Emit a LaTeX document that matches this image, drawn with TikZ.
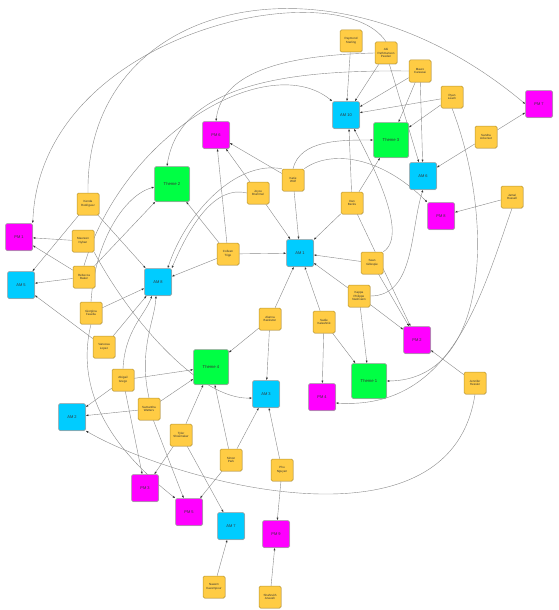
\documentclass[tikz,border=0pt]{standalone}
\usepackage{fontspec}
\setmainfont{Liberation Sans}
\usetikzlibrary{arrows.meta, shadows, backgrounds}
\definecolor{persfill}{HTML}{FFCC44}
\definecolor{persline}{HTML}{B8942E}
\definecolor{amfill}{HTML}{00CCFF}
\definecolor{pmfill}{HTML}{FF00FF}
\definecolor{themefill}{HTML}{00FF44}
\definecolor{linkgray}{HTML}{8A8A8A}
\tikzset{
    basenode/.style={rectangle, rounded corners=1.5pt, draw=black!40, line width=0.5pt, inner sep=0pt, align=center, text=black!80,
        drop shadow={shadow xshift=0.6pt, shadow yshift=-0.6pt, fill=black!25}},
    persnode/.style={basenode, fill=persfill, draw=persline, minimum size=22pt, font=\fontsize{3}{3.8}\selectfont},
    amnode/.style={basenode, fill=amfill, minimum size=27pt, font=\fontsize{4}{5}\selectfont},
    pmnode/.style={basenode, fill=pmfill, minimum size=27pt, font=\fontsize{4}{5}\selectfont},
    themenode/.style={basenode, fill=themefill, minimum size=35pt, font=\fontsize{4.2}{5}\selectfont},
    linkarrow/.style={-{Latex[length=2.6pt,width=2pt,color=black!80]}, draw=linkgray, line width=0.4pt}
}
\begin{document}
\begin{tikzpicture}[x=1pt, y=1pt]
    \useasboundingbox (0,0) rectangle (558,-610);
    % people
    \node[persnode] (ray) at (351,-41) {Raymond\\Starling};
    \node[persnode] (abi) at (386,-53) {Abi\\Pathmanson\\Peeden};
    \node[persnode] (mau) at (420,-71) {Mauro\\Carassai};
    \node[persnode] (rya) at (452,-97) {Ryan\\Leach};
    \node[persnode] (san) at (486,-137) {Sandra\\Ackerset};
    \node[persnode] (jam) at (512,-197) {Jamal\\Russell};
    \node[persnode] (ken) at (88,-204) {Kenda\\Rodriguez};
    \node[persnode] (mrn) at (83,-241) {Maureen\\Nyhan};
    \node[persnode] (reb) at (84,-277) {Rebecca\\Baker};
    \node[persnode] (joy) at (258,-193) {Joyce\\Brummel};
    \node[persnode] (kat) at (293,-180) {Katie\\Wolf};
    \node[persnode] (dan) at (352,-203) {Dan\\Becks};
    \node[persnode] (col) at (228,-254) {Colleen\\Tripp};
    \node[persnode] (sea) at (372,-263) {Sean\\Gillespie};
    \node[persnode] (kap) at (359,-296) {Kappa\\Philippe\\Nashvann};
    \node[persnode] (gio) at (91,-313) {Giorgina\\Fasella};
    \node[persnode] (van) at (104,-347) {Vanessa\\Lopez};
    \node[persnode] (abg) at (123,-380) {Abigail\\Grego};
    \node[persnode] (sam) at (149,-409) {Samantha\\Watters};
    \node[persnode] (tyl) at (181,-435) {Tyler\\Shoemaker};
    \node[persnode] (ala) at (270,-319) {Alanna\\Bankston};
    \node[persnode] (sad) at (324,-322) {Sadie\\Kalashnik};
    \node[persnode] (jen) at (475,-383) {Jennifer\\Hessler};
    \node[persnode] (sim) at (231,-460) {Simon\\Park};
    \node[persnode] (phu) at (282,-470) {Phu\\Nguyen};
    \node[persnode] (nae) at (214,-587) {Naeem\\Kazempour};
    \node[persnode] (sha) at (270,-597) {Shahrukh\\Aneesh};
    % AM
    \node[amnode] (am10) at (346,-115) {AM 10};
    \node[amnode] (am6) at (423,-176) {AM 6};
    \node[amnode] (am8) at (158,-282) {AM 8};
    \node[amnode] (am5) at (21,-285) {AM 5};
    \node[amnode] (am1) at (300,-253) {AM 1};
    \node[amnode] (am2) at (72,-417) {AM 2};
    \node[amnode] (am3) at (266,-394) {AM 3};
    \node[amnode] (am7) at (231,-526) {AM 7};
    % PM
    \node[pmnode] (pm7) at (539,-104) {PM 7};
    \node[pmnode] (pm6) at (216,-135) {PM 6};
    \node[pmnode] (pm8) at (441,-216) {PM 8};
    \node[pmnode] (pm1) at (19,-237) {PM 1};
    \node[pmnode] (pm2) at (417,-340) {PM 2};
    \node[pmnode] (pm4) at (322,-397) {PM 4};
    \node[pmnode] (pm3) at (145,-488) {PM 3};
    \node[pmnode] (pm5) at (189,-512) {PM 5};
    \node[pmnode] (pm9) at (276,-534) {PM 9};
    % themes
    \node[themenode] (th3) at (391,-140) {Theme 3};
    \node[themenode] (th2) at (172,-184) {Theme 2};
    \node[themenode] (th4) at (211,-367) {Theme 4};
    \node[themenode] (th1) at (369,-381) {Theme 1};

    \begin{scope}[on background layer]
    \draw[linkarrow] (ray) -- (am10);
    \draw[linkarrow] (abi) -- (am10);
    \draw[linkarrow] (abi) -- (am6);
    \draw[linkarrow] (mau) -- (am10);
    \draw[linkarrow] (mau) -- (th3);
    \draw[linkarrow] (mau) -- (am6);
    \draw[linkarrow] (rya) -- (am10);
    \draw[linkarrow] (rya) -- (th3);
    \draw[linkarrow] (san) -- (pm7);
    \draw[linkarrow] (san) -- (am6);
    \draw[linkarrow] (jam) -- (pm8);
    \draw[linkarrow] (ken) -- (am8);
    \draw[linkarrow] (ken) -- (am5);
    \draw[linkarrow] (mrn) -- (pm1);
    \draw[linkarrow] (reb) -- (pm1);
    \draw[linkarrow] (reb) -- (am5);
    \draw[linkarrow] (reb) -- (th2);
    \draw[linkarrow] (joy) -- (pm6);
    \draw[linkarrow] (joy) -- (am1);
    \draw[linkarrow] (kat) -- (pm6);
    \draw[linkarrow] (kat) -- (am1);
    \draw[linkarrow] (dan) -- ([xshift=3pt]am10.south);
    \draw[linkarrow] (dan) -- (am1);
    \draw[linkarrow] (dan) -- (th3);
    \draw[linkarrow] (dan) -- (pm2);
    \draw[linkarrow] (col) -- (am1);
    \draw[linkarrow] (col) -- (pm6);
    \draw[linkarrow] (col) -- (th2);
    \draw[linkarrow] (col) -- (am8);
    \draw[linkarrow] (sea) -- (am1);
    \draw[linkarrow] (sea) -- (pm2);
    \draw[linkarrow] (kap) -- (am1);
    \draw[linkarrow] (kap) -- (pm2);
    \draw[linkarrow] (kap) -- (th1);
    \draw[linkarrow] (gio) -- (am8);
    \draw[linkarrow] (van) -- (am5);
    \draw[linkarrow] (van) -- (am8);
    \draw[linkarrow] (abg) -- (am2);
    \draw[linkarrow] (abg) -- (th4);
    \draw[linkarrow] (abg) -- (pm3);
    \draw[linkarrow] (sam) -- (am2);
    \draw[linkarrow] (sam) -- (th4);
    \draw[linkarrow] (sam) -- (pm5);
    \draw[linkarrow] (tyl) -- (th4);
    \draw[linkarrow] (tyl) -- (pm3);
    \draw[linkarrow] (tyl) -- (am7);
    \draw[linkarrow] (ala) -- (th4);
    \draw[linkarrow] (ala) -- (am1);
    \draw[linkarrow] (ala) -- (am3);
    \draw[linkarrow] (sad) -- (am1);
    \draw[linkarrow] (sad) -- (pm4);
    \draw[linkarrow] (sad) -- (th1);
    \draw[linkarrow] (jen) -- (pm2);
    \draw[linkarrow] (sim) -- (th4);
    \draw[linkarrow] (sim) -- (am3);
    \draw[linkarrow] (sim) -- (pm5);
    \draw[linkarrow] (phu) -- (am3);
    \draw[linkarrow] (phu) -- (pm9);
    \draw[linkarrow] (nae) -- (am7);
    \draw[linkarrow] (sha) -- (pm9);
    % long curves
    \draw[linkarrow] (ken.north) .. controls (85,0) and (330,60) .. (pm7.west);
    \draw[linkarrow] (abi.north) .. controls (340,30) and (40,-30) .. (pm1.north east);
    \draw[linkarrow] (reb.north) .. controls (125,-130) and (270,-50) .. (am10.north west);
    \draw[linkarrow] (mau.west) .. controls (300,-70) and (180,-80) .. ([xshift=-5pt]th2.north);
    \draw[linkarrow] (abi.west) .. controls (290,-55) and (222,-70) .. (pm6.north);
    \draw[linkarrow] (rya.south) .. controls (495,-220) and (490,-380) .. (th1.east);
    \draw[linkarrow] (jam.south) .. controls (480,-300) and (450,-410) .. ([yshift=-6pt]pm4.east);
    \draw[linkarrow] (jen.south) .. controls (450,-560) and (170,-480) .. (am2.south east);
    \draw[linkarrow] (mrn.south east) .. controls (130,-320) and (200,-400) .. ([yshift=-4pt]am3.west);
    \draw[linkarrow] (sea.north east) .. controls (410,-235) and (370,-160) .. ([xshift=8pt]am10.south);
    \draw[linkarrow] (kap.east) .. controls (415,-296) and (410,-230) .. (am6.south);
    \draw[linkarrow] (kat.north) .. controls (300,-140) and (340,-140) .. (th3.west);
    \draw[linkarrow] (kat.north east) .. controls (330,-150) and (380,-155) .. (pm8.north west);
    \draw[linkarrow] (joy.west) .. controls (215,-185) and (190,-225) .. (am8.north east);
    \draw[linkarrow] (kat.north west) .. controls (235,-160) and (185,-215) .. ([xshift=-4pt]am8.north east);
    \draw[linkarrow] (gio.north) .. controls (95,-240) and (125,-195) .. ([yshift=-3pt]th2.west);
    \draw[linkarrow] (gio.south) .. controls (70,-410) and (140,-470) .. (pm5.north west);
    \draw[linkarrow] (abg.north) .. controls (125,-330) and (145,-315) .. ([xshift=-6pt]am8.south);
    \draw[linkarrow] (sam.north) .. controls (138,-350) and (155,-320) .. ([xshift=-2pt]am8.south);
    \end{scope}
\end{tikzpicture}
\end{document}
